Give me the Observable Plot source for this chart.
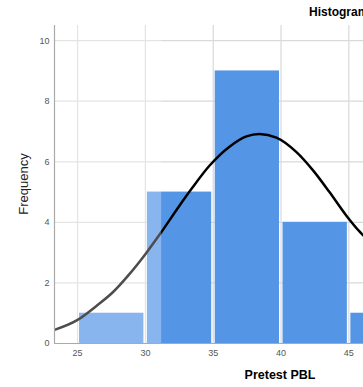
<!DOCTYPE html>
<html>
<head>
<meta charset="utf-8">
<script src="https://cdn.jsdelivr.net/npm/d3@7"></script>
<script src="https://cdn.jsdelivr.net/npm/@observablehq/plot@0.6"></script>
<style>
  html, body { margin: 0; padding: 0; background: #fff; overflow: hidden; }
  #wrap { position: relative; width: 363px; height: 387px; overflow: hidden; font-family: "Liberation Sans", Arial, sans-serif; }
  #title { position: absolute; left: 309px; top: 5px; font-size: 12px; font-weight: bold; color: #000; white-space: nowrap; }
  #xlabel { position: absolute; left: 280px; top: 368px; transform: translateX(-50%); font-size: 12.5px; font-weight: bold; color: #000; white-space: nowrap; }
  #ylabel { position: absolute; left: 23px; top: 184px; transform: translate(-50%, -50%) rotate(-90deg); font-size: 13px; color: #222; white-space: nowrap; }
</style>
</head>
<body>
<div id="wrap">
  <div id="chart"></div>
  <div id="title">Histogram</div>
  <div id="xlabel">Pretest PBL</div>
  <div id="ylabel">Frequency</div>
</div>
<script>
// Histogram bins (Pretest PBL) and counts
const binStarts = [25, 30, 35, 40, 45];
const binEnds = [30, 35, 40, 45, 50];
const frequencies = [1, 5, 9, 4, 1];

// Normal curve
const curveX = [23.30, 24.97, 26.39, 27.62, 28.82, 30.08, 31.18, 32.51, 33.39, 34.72, 36.20, 37.45, 38.41, 39.66, 41.14, 42.39, 43.57, 44.82, 45.78, 46.10];
const curveY = [0.45, 0.77, 1.24, 1.70, 2.29, 3.00, 3.68, 4.55, 5.10, 5.87, 6.50, 6.84, 6.92, 6.80, 6.32, 5.70, 5.00, 4.22, 3.70, 3.55];

// Ticks
const xTicks = [25, 30, 35, 40, 45];
const yTicks = [0, 2, 4, 6, 8, 10];

// Visible window of the (cropped) chart and faded region
const xDomain = [23.30, 46.08];
const yDomain = [0, 10.5];
const fadeEnd = 31.2;

const bins = binStarts.map((s, i) => ({x1: s, x2: binEnds[i], y: frequencies[i]}));
const curve = curveX.map((x, i) => ({x, y: curveY[i]}));
const fade = [{x1: xDomain[0], x2: fadeEnd, y1: yDomain[0], y2: yDomain[1]}];

const chart = Plot.plot({
  width: 363,
  height: 387,
  marginLeft: 54,
  marginRight: 0,
  marginTop: 25,
  marginBottom: 44,
  style: {color: "#555", fontFamily: "'Liberation Sans', Arial, sans-serif", fontSize: "9px", background: "#fff"},
  x: {domain: xDomain},
  y: {domain: yDomain},
  marks: [
    Plot.gridX(xTicks, {stroke: "#d9d9d9", strokeOpacity: 1, strokeWidth: 1.2}),
    Plot.gridY(yTicks.filter(d => d > 0), {stroke: "#d9d9d9", strokeOpacity: 1, strokeWidth: 1.2}),
    Plot.rectY(bins, {x1: "x1", x2: "x2", y: "y", fill: "#5595e5", insetLeft: 2, insetRight: 1.5, clip: true}),
    Plot.line(curve, {x: "x", y: "y", stroke: "#000", strokeWidth: 2.5, curve: "monotone-x", clip: true}),
    Plot.rect(fade, {x1: "x1", x2: "x2", y1: "y1", y2: "y2", fill: "#fff", fillOpacity: 0.3}),
    Plot.ruleX([xDomain[0]], {stroke: "#aaa", strokeWidth: 1.2}),
    Plot.ruleY([0], {stroke: "#aaa", strokeWidth: 1.2}),
    Plot.axisX(xTicks, {tickSize: 0, tickPadding: 6, label: null}),
    Plot.axisY(yTicks, {tickSize: 0, tickPadding: 5, label: null})
  ]
});
document.getElementById("chart").appendChild(chart);
</script>
</body>
</html>
